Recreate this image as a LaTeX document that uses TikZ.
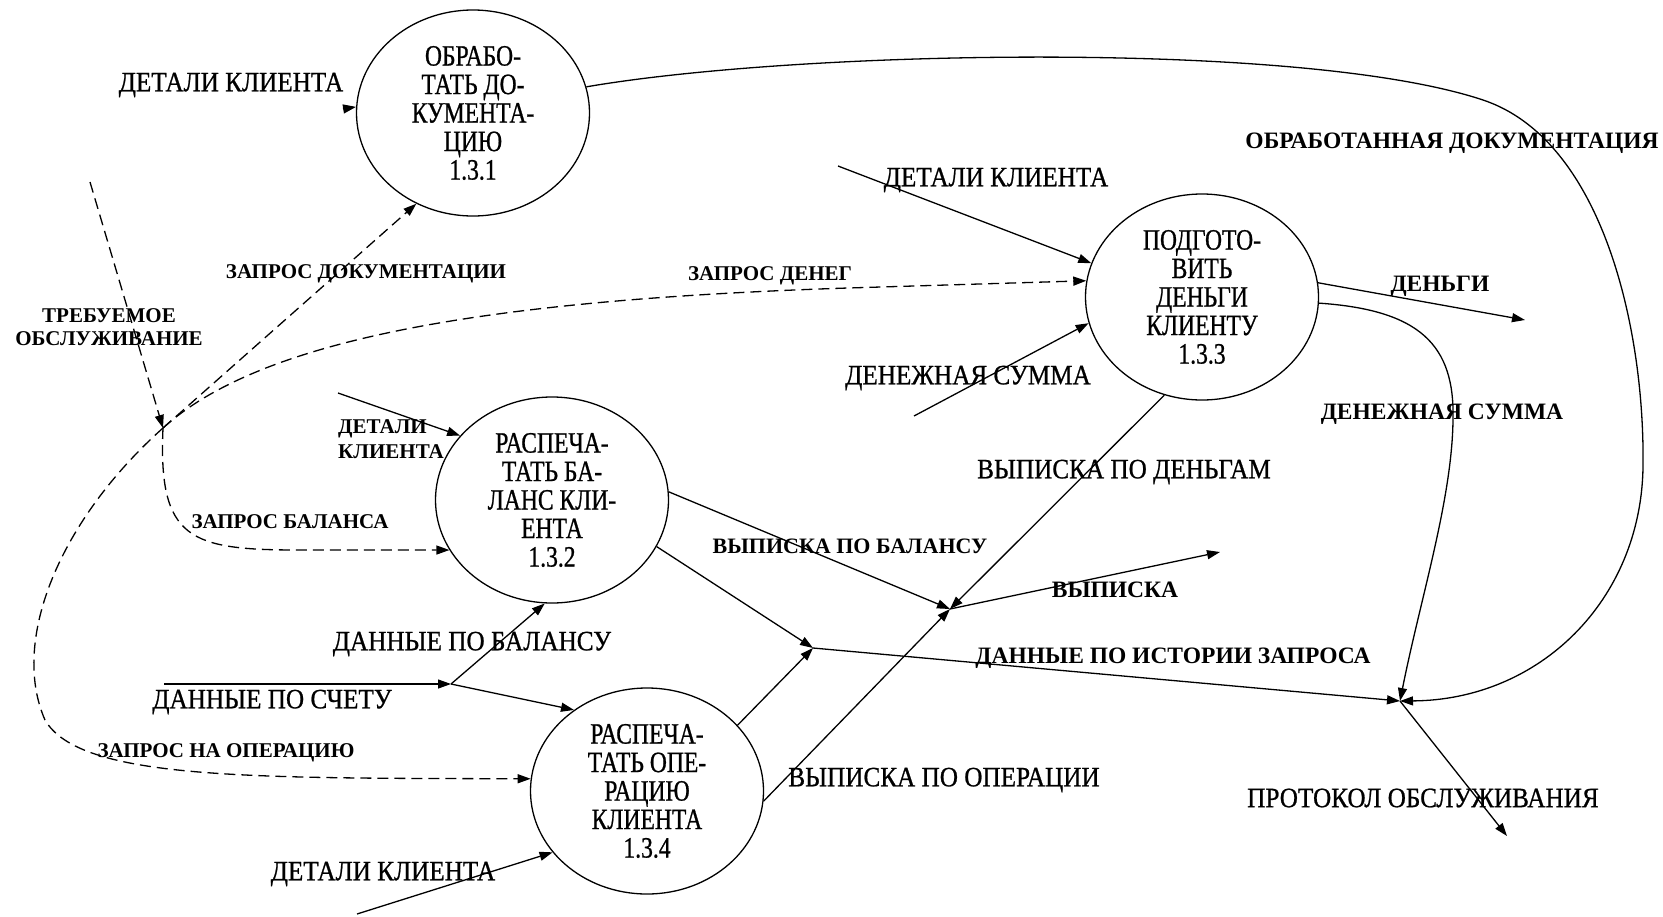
\documentclass[tikz,border=0pt]{standalone}
\usepackage{fontspec}
\setmainfont{Liberation Serif}
\newfontfamily\bubblefont[FakeStretch=0.8,FakeBold=0.8]{Liberation Serif}
\newfontfamily\flowfont[FakeStretch=0.9,FakeBold=0.8]{Liberation Serif}
\usetikzlibrary{arrows.meta,shapes.geometric}

\tikzset{
  proc/.style={ellipse, draw, line width=1.3pt, minimum width=233pt, minimum height=206pt,
    inner sep=0pt, align=center, font=\bubblefont\fontsize{29.5}{28.5}\selectfont},
  lab/.style={inner sep=0pt, font=\flowfont\fontsize{28}{28}\selectfont},
  blab/.style={inner sep=0pt, align=center, font=\bfseries\fontsize{21}{23}\selectfont},
  mlab/.style={inner sep=0pt, font=\bfseries\fontsize{23.5}{24}\selectfont},
  flow/.style={draw, line width=1.3pt, -{Triangle[length=13pt,width=9pt]}},
  dflow/.style={flow, dash pattern=on 11pt off 6pt},
}

\begin{document}
\begin{tikzpicture}[x=1pt, y=-1pt]
\useasboundingbox (0,0) rectangle (1663,916);

% processes
\node[proc] (c1) at (473,113) {ОБРАБО-\\ТАТЬ ДО-\\КУМЕНТА-\\ЦИЮ\\1.3.1};
\node[proc] (c2) at (552,500) {РАСПЕЧА-\\ТАТЬ БА-\\ЛАНС КЛИ-\\ЕНТА\\1.3.2};
\node[proc] (c3) at (1202,297) {ПОДГОТО-\\ВИТЬ\\ДЕНЬГИ\\КЛИЕНТУ\\1.3.3};
\node[proc] (c4) at (647,791) {РАСПЕЧА-\\ТАТЬ ОПЕ-\\РАЦИЮ\\КЛИЕНТА\\1.3.4};

% junctions and free ends
\coordinate (jl) at (163,428);
\coordinate (ja) at (451,684);
\coordinate (js) at (950,609);
\coordinate (jh) at (813,648);
\coordinate (jr) at (1400,701);
\coordinate (s1) at (343,109);
\coordinate (t0) at (90,182);
\coordinate (d3) at (838,166);
\coordinate (ds) at (914,416);
\coordinate (d2) at (338,393);
\coordinate (a0) at (164,684);
\coordinate (v1) at (1220,552);
\coordinate (m1) at (1525,320);
\coordinate (p1) at (1507,836);
\coordinate (d4) at (357,914);

% labels
\node[lab]  (l1)  at (231,85)   {ДЕТАЛИ КЛИЕНТА};
\node[mlab] (l2)  at (1452,143) {ОБРАБОТАННАЯ ДОКУМЕНТАЦИЯ};
\node[lab]  (l3)  at (996,180)  {ДЕТАЛИ КЛИЕНТА};
\node[blab] (l4)  at (366,274)  {ЗАПРОС ДОКУМЕНТАЦИИ};
\node[blab] (l5)  at (770,276)  {ЗАПРОС ДЕНЕГ};
\node[mlab] (l6)  at (1440,286) {ДЕНЬГИ};
\node[blab] (l7)  at (109,327)  {ТРЕБУЕМОЕ\\ОБСЛУЖИВАНИЕ};
\node[lab]  (l8)  at (968,378)  {ДЕНЕЖНАЯ СУММА};
\node[mlab] (l9)  at (1442,414) {ДЕНЕЖНАЯ СУММА};
\node[blab, align=left, anchor=west, font=\bfseries\fontsize{21}{25}\selectfont] (l10) at (338,439) {ДЕТАЛИ\\КЛИЕНТА};
\node[lab]  (l11) at (1124,472) {ВЫПИСКА ПО ДЕНЬГАМ};
\node[blab] (l12) at (290,522)  {ЗАПРОС БАЛАНСА};
\node[mlab, font=\bfseries\fontsize{22}{24}\selectfont] (l13) at (850,546) {ВЫПИСКА ПО БАЛАНСУ};
\node[mlab] (l14) at (1115,590) {ВЫПИСКА};
\node[lab]  (l15) at (472,644)  {ДАННЫЕ ПО БАЛАНСУ};
\node[mlab] (l16) at (1173,658) {ДАННЫЕ ПО ИСТОРИИ ЗАПРОСА};
\node[lab]  (l17) at (272,702)  {ДАННЫЕ ПО СЧЕТУ};
\node[blab] (l18) at (226,753)  {ЗАПРОС НА ОПЕРАЦИЮ};
\node[lab]  (l19) at (944,780)  {ВЫПИСКА ПО ОПЕРАЦИИ};
\node[lab]  (l20) at (1423,798) {ПРОТОКОЛ ОБСЛУЖИВАНИЯ};
\node[lab]  (l21) at (383,874)  {ДЕТАЛИ КЛИЕНТА};

% flows around 1.3.1
\draw[flow] (s1) -- (c1.177);
\draw[flow] (c1.13) .. controls (800,50) and (1303,40) .. (1483,100)
  .. controls (1603,140) and (1645,330) .. (1643,467)
  .. controls (1641,600) and (1540,700) .. (jr);

% control requests
\draw[dflow] (t0) -- (jl);
\draw[dflow] (jl) -- (c1.238);
\draw[dflow] (jl) .. controls (260,340) and (480,300) .. (848,288) -- (c3.172);
\draw[dflow] (jl) .. controls (158,540) and (190,550) .. (300,550) -- (c2.206);
\draw[dflow] (jl) .. controls (60,520) and (10,640) .. (45,720)
  .. controls (80,780) and (250,778) .. (c4.174);

% inputs
\draw[flow] (d2) -- (c2.145);
\draw[flow] (a0) -- (ja);
\draw[flow] (ja) -- (c2.266);
\draw[flow] (ja) -- (c4.132);
\draw[flow] (d3) -- (c3.163);
\draw[flow] (ds) -- (c3.193);
\draw[flow] (d4) -- (c4.213);

% statements
\draw[flow] (c2.4) -- (js);
\draw[flow] (c3.249) -- (js);
\draw[flow] (c4.355) -- (js);
\draw[flow] (js) -- (v1);

% request history
\draw[flow] (c2.336) -- (jh);
\draw[flow] (c4.36) -- (jh);
\draw[flow] (jh) -- (jr);

% money
\draw[flow] (c3.7) -- (m1);
\draw[flow] (c3.357) .. controls (1420,310) and (1455,345) .. (1453,420)
  .. controls (1452,500) and (1420,600) .. (jr);

% service log
\draw[flow] (jr) -- (p1);
\end{tikzpicture}
\end{document}
